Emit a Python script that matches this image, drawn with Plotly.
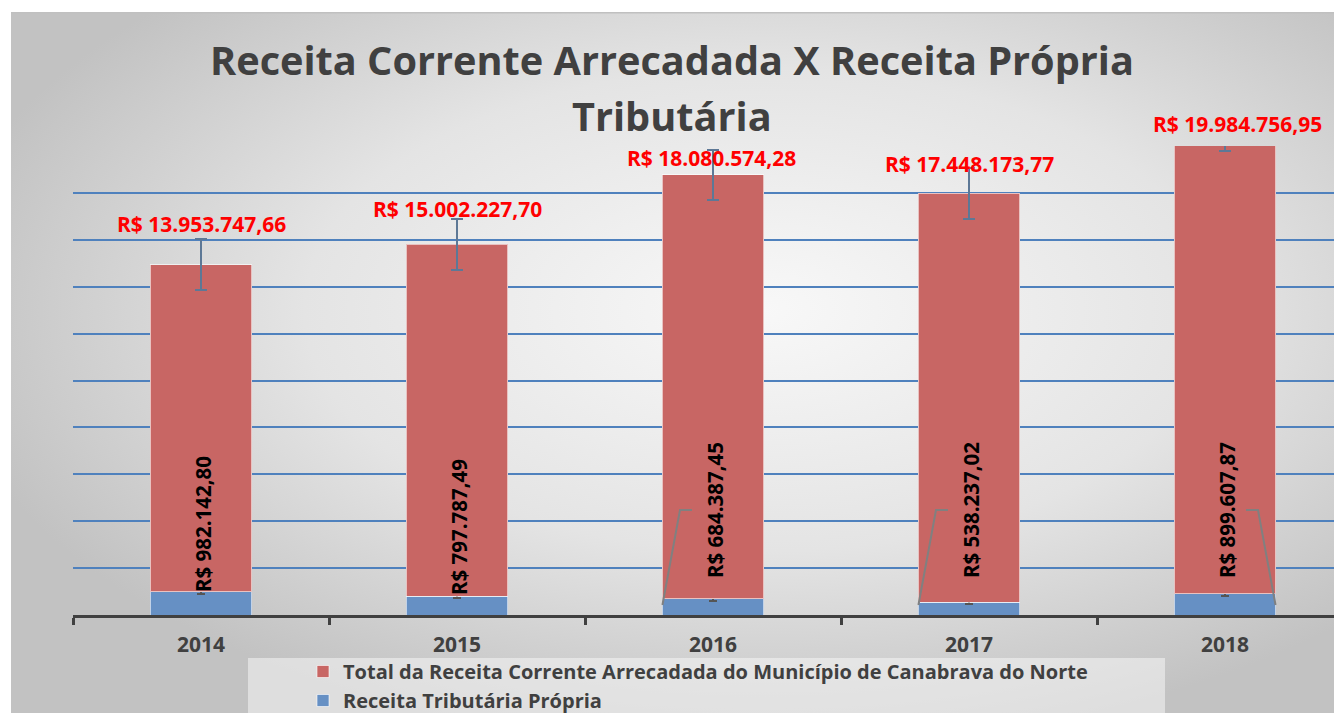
import base64
import numpy as np
import plotly.graph_objects as go

# ---------------- data ----------------
years = ["2014", "2015", "2016", "2017", "2018"]
receita_total = [13953747.66, 15002227.70, 18080574.28, 17448173.77, 19984756.95]
receita_tributaria = [982142.80, 797787.49, 684387.45, 538237.02, 899607.87]
total_labels = ["R$ 13.953.747,66", "R$ 15.002.227,70", "R$ 18.080.574,28",
                "R$ 17.448.173,77", "R$ 19.984.756,95"]
trib_labels = ["R$ 982.142,80", "R$ 797.787,49", "R$ 684.387,45",
               "R$ 538.237,02", "R$ 899.607,87"]
name_total = "Total da Receita Corrente Arrecadada do Município de Canabrava do Norte"
name_trib = "Receita Tributária Própria"
title_lines = ["Receita Corrente Arrecadada X Receita Própria", "Tributária"]

# ---------------- styles / layout geometry ----------------
OFF = 8                       # page body margin of the html page
W, H = 1342, 713
ML, MT = 73 - OFF, 146 - OFF
MB = H - (615 - OFF)
MR = 0
PW, PH = W - ML - MR, H - MT - MB
BAND = 256.0
BAR_W = 0.395
RED = "#c86664"
BLUE = "#6690c4"
DARK = "#404040"
FONT = "Open Sans"

# label offsets (pixels) : red labels above stacked top, vertical labels above baseline
red_dy = [41, 35, 17, 29, 1]
red_dx = [0, 0, -2, 0, 12]
trib_center_px = [91, 88, 105, 105, 105]
leader_side = [0, 0, -1, -1, 1]   # 0 = no leader line


def px_to_paper_x(px):
    return (px - OFF - ML) / PW


def px_to_paper_y(py):
    return (H - MB - (py - OFF)) / PH


# standard error bars (as produced by the spreadsheet)
se_total = float(np.std(receita_total, ddof=1) / np.sqrt(len(receita_total)))
se_trib = float(np.std(receita_tributaria, ddof=1) / np.sqrt(len(receita_tributaria)))

fig = go.Figure()
fig.add_trace(go.Bar(
    x=years, y=receita_tributaria, name=name_trib, width=BAR_W, legendrank=2,
    marker=dict(color=BLUE, line=dict(color="rgba(255,255,255,0.6)", width=1)),
    error_y=dict(type="constant", value=se_trib, color="#555555", thickness=2, width=4),
))
fig.add_trace(go.Bar(
    x=years, y=receita_total, name=name_total, width=BAR_W, legendrank=1,
    marker=dict(color=RED, line=dict(color="rgba(255,255,255,0.6)", width=1)),
    error_y=dict(type="constant", value=se_total, color="#5d7896", thickness=2, width=6),
))

annotations = []
# title
for k, py in enumerate([60, 116]):
    annotations.append(dict(text=title_lines[k], xref="paper", yref="paper",
                            x=px_to_paper_x(672), y=px_to_paper_y(py), showarrow=False,
                            xanchor="center", yanchor="middle",
                            font=dict(family=FONT, size=39.7, color=DARK, weight="bold")))

for i, yr in enumerate(years):
    top = receita_total[i] + receita_tributaria[i]
    annotations.append(dict(text=total_labels[i], x=i, y=min(top, 20e6), xref="x", yref="y",
                            showarrow=False, xanchor="center", yanchor="middle",
                            yshift=red_dy[i] + (max(top - 20e6, 0) / 20e6 * PH), xshift=red_dx[i],
                            font=dict(family=FONT, size=21, color="#ff0000", weight="bold")))
    annotations.append(dict(text=trib_labels[i], x=i, y=0, xref="x", yref="y",
                            showarrow=False, xanchor="center", yanchor="middle",
                            textangle=-90, yshift=trib_center_px[i], xshift=2,
                            font=dict(family=FONT, size=20.5, color="#000000", weight="bold")))

shapes = []
# legend background box
shapes.append(dict(type="rect", xref="paper", yref="paper", layer="below",
                   x0=px_to_paper_x(248), x1=px_to_paper_x(1165),
                   y0=px_to_paper_y(658), y1=px_to_paper_y(730),
                   fillcolor="rgba(245,245,245,0.55)", line=dict(width=0)))
# leader lines of moved data labels
scale = 20e6 / PH
for i, side in enumerate(leader_side):
    if side == 0:
        continue
    xb = i + side * BAR_W / 2
    xm = i + side * 33 / BAND
    xe = i + side * 21 / BAND
    y0 = 10 * scale
    y1 = 105 * scale
    shapes.append(dict(type="path", xref="x", yref="y",
                       path=f"M {xb},{y0} L {xm},{y1} L {xe},{y1}",
                       line=dict(color="#808080", width=2)))

# gradient background as an SVG image
svg = """<svg xmlns='http://www.w3.org/2000/svg' width='1331' height='701' viewBox='0 0 1331 701' preserveAspectRatio='none'>
<defs><radialGradient id='g' cx='0.56' cy='0.42' r='0.62' gradientUnits='objectBoundingBox'>
<stop offset='0' stop-color='#f8f8f8'/><stop offset='0.55' stop-color='#e4e4e4'/><stop offset='1' stop-color='#c2c2c2'/>
</radialGradient></defs>
<rect x='0' y='0' width='1331' height='701' fill='url(#g)'/>
<line x1='0' y1='0.5' x2='1331' y2='0.5' stroke='#c0c0c0' stroke-width='2'/>
</svg>"""
src = "data:image/svg+xml;base64," + base64.b64encode(svg.encode("utf-8")).decode("ascii")
images = [dict(source=src, xref="paper", yref="paper",
               x=px_to_paper_x(11), y=px_to_paper_y(12),
               sizex=(W + OFF - 11 + 1) / PW, sizey=(H + OFF - 12) / PH,
               xanchor="left", yanchor="top", sizing="stretch", layer="below")]

fig.update_layout(
    width=W, height=H, autosize=False,
    margin=dict(l=ML, r=MR, t=MT, b=MB, pad=0, autoexpand=False),
    paper_bgcolor="white", plot_bgcolor="rgba(0,0,0,0)",
    barmode="stack",
    showlegend=True,
    legend=dict(orientation="v", x=px_to_paper_x(303), xanchor="left",
                y=px_to_paper_y(652), yanchor="top", traceorder="normal",
                bgcolor="rgba(0,0,0,0)", tracegroupgap=0,
                font=dict(family=FONT, size=20, color=DARK, weight="bold")),
    annotations=annotations, shapes=shapes, images=images,
    xaxis=dict(type="category", range=[-0.5, -0.5 + PW / BAND],
               showline=True, linecolor=DARK, linewidth=3,
               ticks="outside", tickson="boundaries", ticklen=7, tickwidth=3,
               tickcolor=DARK, showgrid=False, zeroline=False, automargin=False,
               ticklabelstandoff=9,
               tickfont=dict(family=FONT, size=21, color=DARK, weight="bold")),
    yaxis=dict(range=[0, 20e6], dtick=2e6, showticklabels=False, showgrid=True,
               gridcolor="#4f81bd", gridwidth=2, zeroline=False, showline=False,
               ticks="", automargin=False),
)

fig.write_html("out.html")
